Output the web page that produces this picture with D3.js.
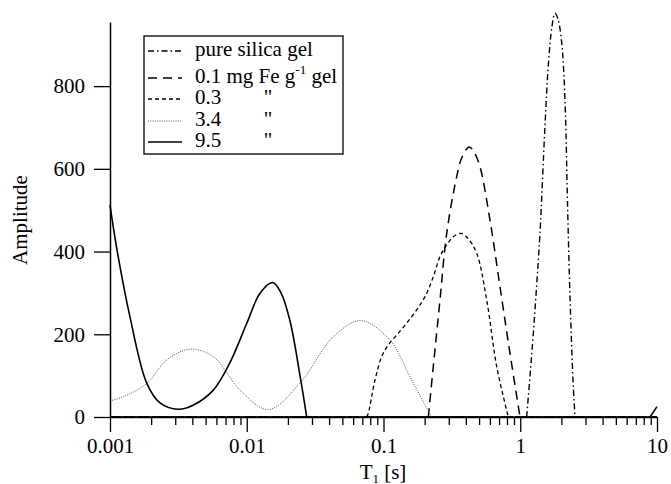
<!DOCTYPE html>
<html><head><meta charset="utf-8">
<script src="https://cdn.jsdelivr.net/npm/d3@7/dist/d3.min.js"></script>
<style>
body{margin:0;padding:0;}
svg{display:block;}
</style>
</head>
<body><svg id="chart" width="671" height="484"></svg>
<script>
// ---- data ----
const xTicks = [0.001, 0.01, 0.1, 1, 10];
const xTickLabels = ["0.001", "0.01", "0.1", "1", "10"];
const yTicks = [0, 200, 400, 600, 800];

// pure silica gel (dash-dot)
const silicaT = [1.114, 1.179, 1.246, 1.319, 1.394, 1.517, 1.604, 1.707, 1.795, 1.889, 2.010, 2.072, 2.142, 2.215, 2.311, 2.430, 2.515];
const silicaV = [0, 100, 202, 320, 444, 705, 850, 945, 976, 962, 905, 845, 730, 520, 290, 90, 0];
// 0.1 mg Fe g-1 gel (long dash)
const fe01T = [0.2127, 0.2313, 0.2589, 0.2899, 0.3430, 0.375, 0.4240, 0.4600, 0.5077, 0.6008, 0.7109, 0.8414, 0.9958];
const fe01V = [0, 122, 283, 444, 581, 628, 653, 640, 605, 476, 315, 154, 0];
// 0.3 (short dash)
const fe03T = [0.0753, 0.0774, 0.0866, 0.0970, 0.1084, 0.1248, 0.1477, 0.1749, 0.2012, 0.2313, 0.2589, 0.2899, 0.3240, 0.3686, 0.4140, 0.4804, 0.5684, 0.6727, 0.8177];
const fe03V = [0, 9, 89, 146, 174, 198, 227, 259, 291, 339, 388, 416, 436, 444, 432, 396, 283, 122, 0];
// 3.4 (dotted)
const fe34T = [0.001, 0.001252, 0.001855, 0.002598, 0.003846, 0.005693, 0.008926, 0.014376, 0.024517, 0.042951, 0.068465, 0.11155, 0.15624, 0.20115, 0.22518];
const fe34V = [39, 49, 81, 138, 164, 146, 65, 18, 82, 194, 233, 186, 97, 29, 0];
// 9.5 (solid)
const fe95T = [0.001, 0.001125, 0.0014, 0.001855, 0.002321, 0.003157, 0.004080, 0.005693, 0.007500, 0.009991, 0.012503, 0.015478, 0.017800, 0.020721, 0.024517, 0.027439];
const fe95V = [512, 404, 242, 82, 34, 18.6, 29, 65, 130, 226, 299, 325, 300, 232, 100, 0];
const fe95TailT = [8.89, 10];
const fe95TailV = [0, 25];

const legendLabels = ["pure silica gel", "0.1 mg Fe g", "0.3", "3.4", "9.5"];

// ---- layout ----
const svg = d3.select("#chart");
const x = d3.scaleLog().domain([0.001, 10]).range([110, 657]);
const y = d3.scaleLinear().domain([0, 955]).range([417, 22]);

function serif(sel) {
  return sel.attr("font-family", null).style("font-family", "'Liberation Serif'");
}

const styles = {
  silica: {dash: "6,3,1.5,3", width: 1.4, color: "#000"},
  fe01: {dash: "9,6", width: 1.5, color: "#000"},
  fe03: {dash: "4,3", width: 1.3, color: "#000"},
  fe34: {dash: "1,1.3", width: 1.0, color: "#555"},
  fe95: {dash: null, width: 1.6, color: "#000"}
};

const series = [
  {key: "silica", T: silicaT, V: silicaV},
  {key: "fe01", T: fe01T, V: fe01V},
  {key: "fe03", T: fe03T, V: fe03V},
  {key: "fe34", T: fe34T, V: fe34V},
  {key: "fe95", T: fe95T, V: fe95V},
  {key: "fe95", T: fe95TailT, V: fe95TailV}
];

const curve = d3.line().x(d => x(d[0])).y(d => Math.min(y(d[1]), y(0)))
  .curve(d3.curveCatmullRom.alpha(0.5));
const straight = d3.line().x(d => x(d[0])).y(d => y(d[1]));

const gS = svg.append("g");
function stylePath(p, s) {
  p.attr("fill", "none").attr("stroke", s.color).attr("stroke-width", s.width);
  if (s.dash) p.attr("stroke-dasharray", s.dash);
}
["silica", "fe01", "fe03", "fe34", "fe95"].forEach(k => {
  stylePath(gS.append("path").attr("d", straight([[0.001, 0], [10, 0]])), styles[k]);
});
series.forEach(s => {
  const pts = s.T.map((t, i) => [t, s.V[i]]);
  stylePath(gS.append("path").attr("d", curve(pts)), styles[s.key]);
});

// ---- axes ----
const fs = 21;
const xMinor = [];
for (let e = -3; e < 1; e++) for (let m = 2; m <= 9; m++) xMinor.push(m * Math.pow(10, e));

const gx = svg.append("g").attr("transform", "translate(0,417)");
gx.call(d3.axisBottom(x).tickValues(xTicks).tickSize(15).tickSizeOuter(0)
  .tickPadding(6).tickFormat((d, i) => xTickLabels[i]));
gx.append("g").call(d3.axisBottom(x).tickValues(xMinor).tickSize(8).tickFormat(""))
  .select(".domain").remove();
gx.attr("font-family", null).attr("font-size", null);
gx.selectAll("g").attr("font-family", null).attr("font-size", null);
gx.selectAll("line").attr("stroke", "#000").attr("stroke-width", 1.3);
gx.select(".domain").attr("stroke", "#000").attr("stroke-width", 1.5);
serif(gx.selectAll("text").attr("font-size", fs).attr("fill", "#000"));

const gy = svg.append("g").attr("transform", "translate(110,0)");
gy.call(d3.axisLeft(y).tickValues(yTicks).tickSize(16).tickSizeOuter(0).tickPadding(9));
gy.attr("font-family", null).attr("font-size", null);
gy.selectAll("line").attr("stroke", "#000").attr("stroke-width", 1.3);
gy.select(".domain").attr("stroke", "#000").attr("stroke-width", 1.5);
serif(gy.selectAll("text").attr("font-size", fs).attr("fill", "#000"));

// axis titles
serif(svg.append("text").attr("transform", "translate(27,220) rotate(-90)")
  .attr("text-anchor", "middle").attr("font-size", fs)).text("Amplitude");
const xt = serif(svg.append("text").attr("x", 383).attr("y", 479)
  .attr("text-anchor", "middle").attr("font-size", fs));
xt.append("tspan").text("T");
xt.append("tspan").attr("font-size", 13).attr("dy", 4).text("1");
xt.append("tspan").attr("dy", -4).text(" [s]");

// ---- legend ----
const lg = svg.append("g");
lg.append("rect").attr("x", 144).attr("y", 36).attr("width", 199).attr("height", 118)
  .attr("fill", "#fff").attr("stroke", "#000").attr("stroke-width", 1.3);
const rows = [
  {key: "silica", base: 56},
  {key: "fe01", base: 83},
  {key: "fe03", base: 104},
  {key: "fe34", base: 126},
  {key: "fe95", base: 147}
];
rows.forEach((r, i) => {
  stylePath(lg.append("line").attr("x1", 148).attr("x2", 182)
    .attr("y1", r.base - 5).attr("y2", r.base - 5), styles[r.key]);
  const t = serif(lg.append("text").attr("x", 195).attr("y", r.base).attr("font-size", fs))
    .text(legendLabels[i]);
  if (r.key === "fe01") {
    t.append("tspan").attr("font-size", 13).attr("dy", -9).text("-1");
    t.append("tspan").attr("dy", 9).text(" gel");
  }
  if (i >= 2) {
    serif(lg.append("text").attr("x", 268).attr("y", r.base).attr("font-size", fs)
      .attr("text-anchor", "middle")).text("\"");
  }
});
</script></body></html>
